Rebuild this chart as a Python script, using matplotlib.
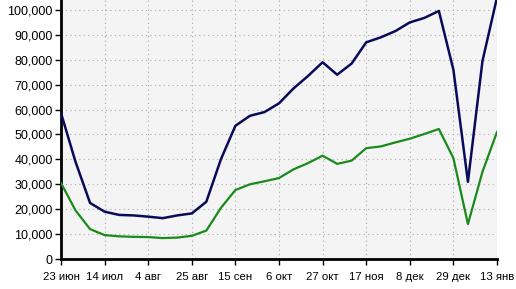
import matplotlib
matplotlib.use("Agg")
import matplotlib.pyplot as plt
from matplotlib.ticker import FuncFormatter

tick_labels = ["23 июн", "14 июл", "4 авг", "25 авг", "15 сен", "6 окт",
               "27 окт", "17 ноя", "8 дек", "29 дек", "13 янв"]
tick_index = [0, 3, 6, 9, 12, 15, 18, 21, 24, 27, 30]

blue = [58600, 39000, 22500, 19000, 17700, 17500, 17000, 16400, 17500, 18300,
        23000, 40000, 53500, 57500, 59000, 62500, 68500, 73500, 79000, 74000,
        78500, 87000, 89000, 91500, 95000, 96800, 99600, 76000, 31000, 79500,
        105000]
green = [30500, 19500, 12000, 9600, 9100, 8900, 8800, 8400, 8600, 9300,
         11400, 20500, 27700, 30000, 31200, 32500, 36000, 38500, 41500, 38200,
         39500, 44500, 45200, 46800, 48300, 50200, 52200, 40500, 14000, 35000,
         51000]

plt.rcParams['font.family'] = ['Liberation Sans', 'DejaVu Sans']

fig = plt.figure(figsize=(5.16, 2.89), dpi=100)
ax = fig.add_axes([61/516, 30/289, 436/516, 259/289])
ax.set_facecolor('#f4f4f4')

x = list(range(len(blue)))
ax.plot(x, blue, color='#0a0a5a', lw=1.8, zorder=3)
ax.plot(x, green, color='#1a8a1a', lw=1.6, zorder=3)

ax.set_xlim(0, 30)
ax.set_ylim(0, 104000)
ax.set_yticks(range(0, 100001, 10000))
ax.yaxis.set_major_formatter(FuncFormatter(lambda v, p: f"{int(v):,}"))
ax.set_xticks(tick_index)
ax.set_xticklabels(tick_labels)

ax.grid(True, color='#aaaaaa', linestyle=(0, (1, 3)), lw=0.8)
ax.set_axisbelow(True)
for s in ['top', 'right']:
    ax.spines[s].set_visible(False)
for s in ['left', 'bottom']:
    ax.spines[s].set_linewidth(2)
    ax.spines[s].set_color('black')
ax.tick_params(axis='both', direction='out', length=4, width=1, colors='black')
ax.tick_params(axis='y', labelsize=9, pad=2)
ax.tick_params(axis='x', labelsize=8.2, pad=5)

fig.savefig('out.png', dpi=100)
